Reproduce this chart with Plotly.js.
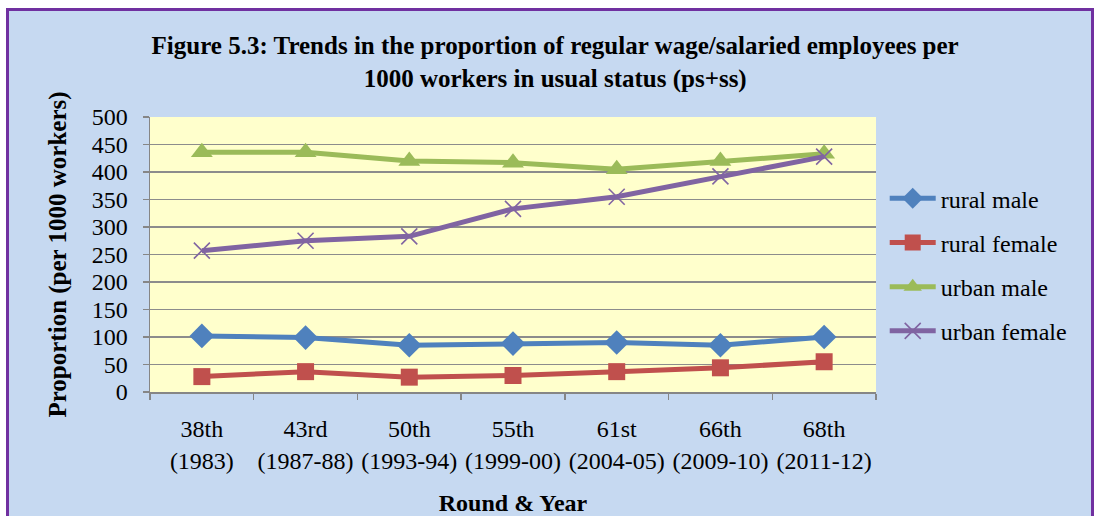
<!DOCTYPE html>
<html><head><meta charset="utf-8">
<script src="https://cdn.plot.ly/plotly-3.0.1.min.js"></script>
<style>
html,body{margin:0;padding:0;background:#fff;width:1095px;height:516px;overflow:hidden;}
#frame{position:absolute;left:6px;top:8px;right:1px;bottom:-20px;border:3px solid #7030A0;background:#C6D9F1;}
#chart{position:absolute;left:0;top:0;width:1095px;height:516px;}
</style></head><body>
<div id="frame"></div>
<div id="chart"></div>
<script>
var categories = ["38th<br>(1983)","43rd<br>(1987-88)","50th<br>(1993-94)","55th<br>(1999-00)","61st<br>(2004-05)","66th<br>(2009-10)","68th<br>(2011-12)"];
var ruralMale   = [102, 99, 85, 88, 90, 85, 100];
var ruralFemale = [28, 37, 27, 30, 37, 44, 55];
var urbanMale   = [436, 436, 420, 417, 405, 420, 433];
var urbanFemale = [257, 275, 283, 333, 355, 392, 428];
var yTicks = [0,50,100,150,200,250,300,350,400,450,500];

var serif = "Liberation Serif, Times New Roman, serif";
function tr(name, y, color, symbol, msize, group){
  var m = {symbol:symbol, size:msize, color:color};
  if(symbol === "x-thin"){ m.line = {color:color, width:1.6}; }
  return {x:categories, y:y, name:name, type:"scatter", mode:"lines+markers",
    line:{color:color, width:5}, marker:m, legendgroup:group};
}
var data = [
  tr("rural male", ruralMale, "#4F81BD", "diamond", 19, "a"),
  tr("rural female", ruralFemale, "#C0504D", "square", 17, "b"),
  tr("urban male", urbanMale, "#9BBB59", "triangle-up", 19, "c"),
  tr("urban female", urbanFemale, "#8064A2", "x-thin", 16, "d")
];
var layout = {
  width:1095, height:516,
  margin:{l:150, r:219, t:117, b:124},
  paper_bgcolor:"rgba(0,0,0,0)", plot_bgcolor:"#FFFFCC",
  font:{family:serif, size:24, color:"#000"},
  title:{text:"<b>Figure 5.3: Trends in the proportion of regular wage/salaried employees per<br>1000 workers in usual status (ps+ss)</b>",
    xref:"container", x:0.507, xanchor:"center", yref:"container", y:0.895, yanchor:"middle",
    font:{family:serif, size:25, color:"#000"}},
  xaxis:{type:"category", range:[-0.5,6.5], tickson:"boundaries", ticks:"outside", ticklen:6, tickcolor:"#868686", tickwidth:1.5,
    showline:true, linecolor:"#868686", linewidth:1.5, showgrid:false, zeroline:false, tickangle:0,
    ticklabelstandoff:15, tickfont:{family:serif, size:24},
    title:{text:"<b>Round & Year</b>", standoff:21, font:{family:serif, size:24}}},
  yaxis:{range:[0,500], tickvals:yTicks, ticks:"outside", ticklen:6, tickcolor:"#868686", tickwidth:1.5,
    showline:true, linecolor:"#868686", linewidth:1.5, showgrid:true, gridcolor:"#8C8C8C", gridwidth:1.5, zeroline:false,
    ticklabelstandoff:10, tickfont:{family:serif, size:24},
    title:{text:"<b>Proportion (per 1000 workers)</b>", standoff:18, font:{family:serif, size:25}}},
  legend:{x:1.012, xanchor:"left", y:0.785, yanchor:"top", bgcolor:"rgba(0,0,0,0)", tracegroupgap:10,
    font:{family:serif, size:24}, itemwidth:46},
  showlegend:true
};
Plotly.newPlot("chart", data, layout, {displayModeBar:false, staticPlot:true});
</script>
</body></html>
